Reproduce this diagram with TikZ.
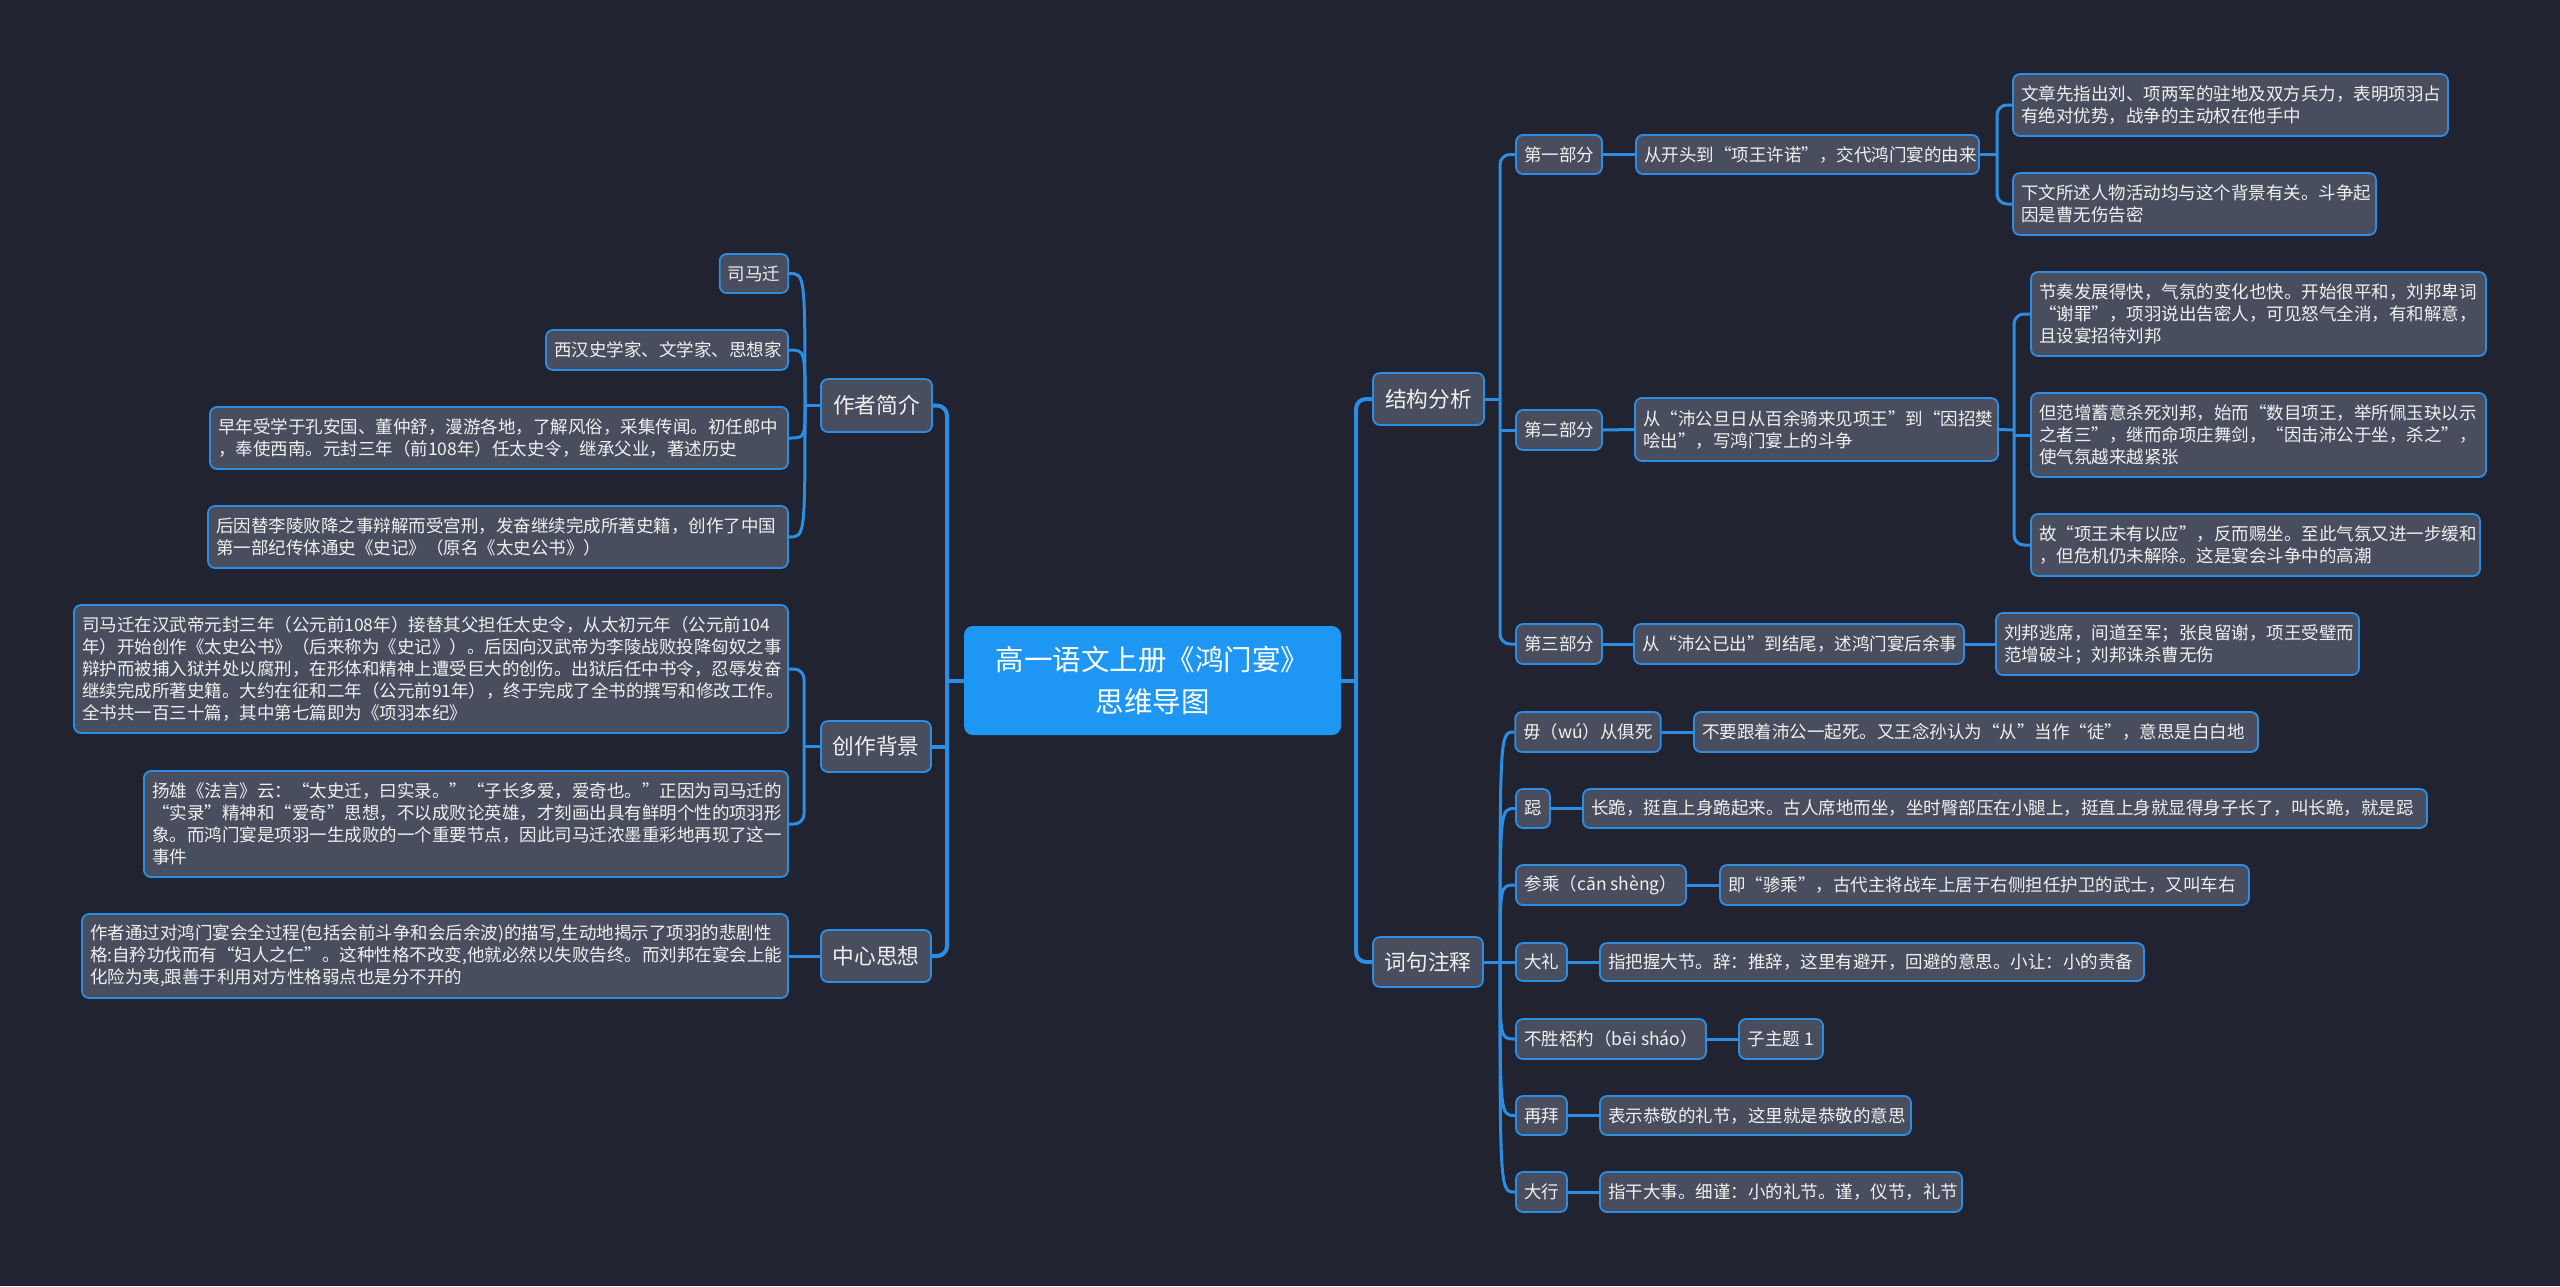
\documentclass[tikz,border=0pt]{standalone}
\usepackage{fontspec}
\newfontfamily\cjk{Noto Sans CJK SC}
\definecolor{bgcol}{RGB}{33,36,48}
\definecolor{nodefill}{RGB}{72,78,94}
\definecolor{lineblue}{RGB}{43,142,228}
\definecolor{rootblue}{RGB}{30,150,243}
\definecolor{txt}{RGB}{240,240,240}
\pgfdeclarelayer{back}
\pgfdeclarelayer{edges}
\pgfsetlayers{back,edges,main}
\tikzset{
  box/.style={draw=lineblue, fill=nodefill, line width=1.8pt, rounded corners=7pt, text=txt,
    font=\cjk\fontsize{17.5}{22}\selectfont, inner xsep=8pt, inner ysep=0pt, anchor=center},
  leaf/.style={box, align=left},
  topbox/.style={box, font=\cjk\fontsize{21.7}{26}\selectfont},
  rootbox/.style={fill=rootblue, rounded corners=9pt, text=white,
    font=\cjk\fontsize{28.5}{42}\selectfont, align=center, inner sep=0pt},
  conn/.style={draw=lineblue, line width=3pt},
  mainconn/.style={draw=lineblue, line width=4pt},
  elbow/.style={rounded corners=10pt}
}
\begin{document}
\begin{tikzpicture}[x=1pt,y=-1pt]
\begin{pgfonlayer}{back}
\fill[bgcol] (0,0) rectangle (2560,1286);
\end{pgfonlayer}
\useasboundingbox (0,0) rectangle (2560,1286);

% root
\node[rootbox, minimum width=377pt, minimum height=109pt] (root) at (1152.5,680.5) {高一语文上册《鸿门宴》\\思维导图};

% ---------- left side ----------
\node[topbox, minimum width=111pt, minimum height=53pt] (zz) at (876.5,405.5) {作者简介};
\node[box, minimum width=68pt, minimum height=39pt] (smq) at (754,273.5) {司马迁};
\node[leaf, text width=226pt, minimum height=40pt] (xh) at (667,350) {西汉史学家、文学家、思想家};
\node[leaf, text width=562pt, minimum height=62pt] (zn) at (499,438) {早年受学于孔安国、董仲舒，漫游各地，了解风俗，采集传闻。初任郎中\\，奉使西南。元封三年（前108年）任太史令，继承父业，著述历史};
\node[leaf, text width=564pt, minimum height=62pt] (hy) at (498,537) {后因替李陵败降之事辩解而受宫刑，发奋继续完成所著史籍，创作了中国\\第一部纪传体通史《史记》（原名《太史公书》）};

\node[topbox, minimum width=110pt, minimum height=51pt] (bg) at (876,746.5) {创作背景};
\node[leaf, text width=698pt, minimum height=128pt] (bg1) at (431,669) {司马迁在汉武帝元封三年（公元前108年）接替其父担任太史令，从太初元年（公元前104\\年）开始创作《太史公书》（后来称为《史记》）。后因向汉武帝为李陵战败投降匈奴之事\\辩护而被捕入狱并处以腐刑，在形体和精神上遭受巨大的创伤。出狱后任中书令，忍辱发奋\\继续完成所著史籍。大约在征和二年（公元前91年），终于完成了全书的撰写和修改工作。\\全书共一百三十篇，其中第七篇即为《项羽本纪》};
\node[leaf, text width=628pt, minimum height=106pt] (bg2) at (466,824) {扬雄《法言》云：“太史迁，曰实录。”“子长多爱，爱奇也。”正因为司马迁的\\“实录”精神和“爱奇”思想，不以成败论英雄，才刻画出具有鲜明个性的项羽形\\象。而鸿门宴是项羽一生成败的一个重要节点，因此司马迁浓墨重彩地再现了这一\\事件};

\node[topbox, minimum width=110pt, minimum height=52pt] (zx) at (876,956) {中心思想};
\node[leaf, text width=690pt, minimum height=84pt] (zx1) at (435,956) {作者通过对鸿门宴会全过程(包括会前斗争和会后余波)的描写,生动地揭示了项羽的悲剧性\\格:自矜功伐而有“妇人之仁”。这种性格不改变,他就必然以失败告终。而刘邦在宴会上能\\化险为夷,跟善于利用对方性格弱点也是分不开的};

% ---------- right side ----------
\node[topbox, minimum width=111pt, minimum height=52pt] (jg) at (1428.5,399) {结构分析};
\node[box, minimum width=86pt, minimum height=39pt] (p1) at (1559,154.5) {第一部分};
\node[leaf, text width=327pt, minimum height=39pt] (p1a) at (1807.5,154.5) {从开头到“项王许诺”，交代鸿门宴的由来};
\node[leaf, text width=419pt, minimum height=62pt] (p1b) at (2230.5,105) {文章先指出刘、项两军的驻地及双方兵力，表明项羽占\\有绝对优势，战争的主动权在他手中};
\node[leaf, text width=347pt, minimum height=62pt] (p1c) at (2194.5,204) {下文所述人物活动均与这个背景有关。斗争起\\因是曹无伤告密};

\node[box, minimum width=86pt, minimum height=40pt] (p2) at (1559,430) {第二部分};
\node[leaf, text width=347pt, minimum height=63pt] (p2a) at (1816.5,429.5) {从“沛公旦日从百余骑来见项王”到“因招樊\\哙出”，写鸿门宴上的斗争};
\node[leaf, text width=439pt, minimum height=84pt] (p2b) at (2258.5,314) {节奏发展得快，气氛的变化也快。开始很平和，刘邦卑词\\“谢罪”，项羽说出告密人，可见怒气全消，有和解意，\\且设宴招待刘邦};
\node[leaf, text width=439pt, minimum height=84pt] (p2c) at (2258.5,435) {但范增蓄意杀死刘邦，始而“数目项王，举所佩玉玦以示\\之者三”，继而命项庄舞剑，“因击沛公于坐，杀之”，\\使气氛越来越紧张};
\node[leaf, text width=433pt, minimum height=62pt] (p2d) at (2255.5,545) {故“项王未有以应”，反而赐坐。至此气氛又进一步缓和\\，但危机仍未解除。这是宴会斗争中的高潮};

\node[box, minimum width=86pt, minimum height=40pt] (p3) at (1559,644) {第三部分};
\node[leaf, text width=314pt, minimum height=40pt] (p3a) at (1799,644) {从“沛公已出”到结尾，述鸿门宴后余事};
\node[leaf, text width=347pt, minimum height=62pt] (p3b) at (2177.5,644) {刘邦逃席，间道至军；张良留谢，项王受璧而\\范增破斗；刘邦诛杀曹无伤};

\node[topbox, minimum width=110pt, minimum height=50pt] (cj) at (1428,962) {词句注释};
\node[box, minimum width=144pt, minimum height=40pt] (w1) at (1588,732) {毋（wú）从俱死};
\node[leaf, text width=548pt, minimum height=40pt] (w1a) at (1976,732) {不要跟着沛公一起死。又王念孙认为“从”当作“徒”，意思是白白地};
\node[box, minimum width=34pt, minimum height=39pt] (w2) at (1533,808.5) {跽};
\node[leaf, text width=828pt, minimum height=39pt] (w2a) at (2005,808.5) {长跪，挺直上身跪起来。古人席地而坐，坐时臀部压在小腿上，挺直上身就显得身子长了，叫长跪，就是跽};
\node[box, minimum width=170pt, minimum height=40pt] (w3) at (1601,885) {参乘（cān shèng）};
\node[leaf, text width=513pt, minimum height=40pt] (w3a) at (1984.5,885) {即“骖乘”，古代主将战车上居于右侧担任护卫的武士，又叫车右};
\node[box, minimum width=51pt, minimum height=38pt] (w4) at (1541.5,962) {大礼};
\node[leaf, text width=528pt, minimum height=38pt] (w4a) at (1872,962) {指把握大节。辞：推辞，这里有避开，回避的意思。小让：小的责备};
\node[box, minimum width=190pt, minimum height=40pt] (w5) at (1611,1039) {不胜桮杓（bēi sháo）};
\node[box, minimum width=84pt, minimum height=40pt] (w5a) at (1781,1039) {子主题 1};
\node[box, minimum width=51pt, minimum height=39pt] (w6) at (1541.5,1115.5) {再拜};
\node[leaf, text width=295pt, minimum height=39pt] (w6a) at (1755.5,1115.5) {表示恭敬的礼节，这里就是恭敬的意思};
\node[box, minimum width=51pt, minimum height=40pt] (w7) at (1541.5,1192) {大行};
\node[leaf, text width=346pt, minimum height=40pt] (w7a) at (1781,1192) {指干大事。细谨：小的礼节。谨，仪节，礼节};

% ---------- connectors ----------
\begin{pgfonlayer}{edges}
\coordinate (Lsp) at (947,680.5);
\coordinate (Rsp) at (1356,680.5);
\draw[mainconn] (root.west) -- (Lsp);
\draw[mainconn, elbow] (zz.east) -| (Lsp) |- (zx.east);
\draw[mainconn] (bg.east) -- (bg.east -| Lsp);
\draw[mainconn] (root.east) -- (Rsp);
\draw[mainconn, elbow] (jg.west) -| (Rsp) |- (cj.west);

% author intro: curves
\coordinate (Zsp) at (805,405.5);
\draw[conn] (zz.west) -- (Zsp);
\foreach \n in {smq,xh,zn,hy}
  \draw[conn] (Zsp) .. controls (Zsp |- \n.east) .. (\n.east);

% background: elbow
\coordinate (Bsp) at (804,746.5);
\draw[conn] (bg.west) -- (Bsp);
\draw[conn, elbow] (bg1.east) -| (Bsp) |- (bg2.east);

% central idea
\draw[conn] (zx.west) -- (zx1.east);

% structure
\coordinate (Jsp) at (1500,399);
\draw[conn] (jg.east) -- (Jsp);
\draw[conn, elbow] (p1.west) -| (Jsp) |- (p3.west);
\draw[conn] (p2.west) -- (p2.west -| Jsp);

\draw[conn] (p1.east) -- (p1a.west);
\coordinate (P1sp) at (1997,154.5);
\draw[conn] (p1a.east) -- (P1sp);
\draw[conn, elbow] (p1b.west) -| (P1sp) |- (p1c.west);

\draw[conn] (p2.east) -- (p2a.west);
\coordinate (P2sp) at (2014,430);
\draw[conn] (p2a.east) -- (P2sp);
\draw[conn, elbow] (p2b.west) -| (P2sp) |- (p2d.west);
\draw[conn] (p2c.west) -- (p2c.west -| P2sp);

\draw[conn] (p3.east) -- (p3a.west);
\draw[conn] (p3a.east) -- (p3b.west);

% word notes: curves
\coordinate (Csp) at (1500,962);
\draw[conn] (cj.east) -- (Csp);
\foreach \n in {w1,w2,w3,w4,w5,w6,w7}
  \draw[conn] (Csp) .. controls (Csp |- \n.west) .. (\n.west);
\draw[conn] (w1.east) -- (w1a.west);
\draw[conn] (w2.east) -- (w2a.west);
\draw[conn] (w3.east) -- (w3a.west);
\draw[conn] (w4.east) -- (w4a.west);
\draw[conn] (w5.east) -- (w5a.west);
\draw[conn] (w6.east) -- (w6a.west);
\draw[conn] (w7.east) -- (w7a.west);
\end{pgfonlayer}
\end{tikzpicture}
\end{document}
